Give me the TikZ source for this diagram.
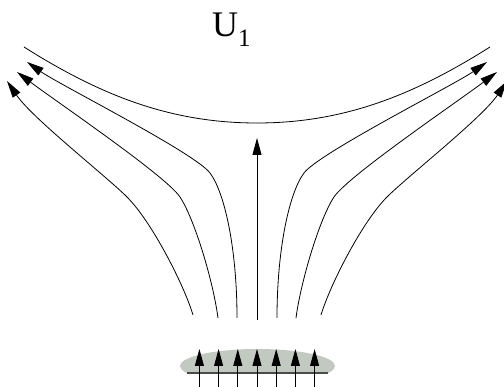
\documentclass[tikz,border=0pt]{standalone}
\usepackage{fontspec}
\setmainfont{Liberation Serif}
\usetikzlibrary{arrows.meta}
\definecolor{Ink}{HTML}{000000}
\definecolor{Plate}{HTML}{C2C9C1}
\definecolor{PlateEdge}{HTML}{4A4A4A}
\tikzset{
  stream/.style={draw=Ink,line width=0.8pt},
  flow/.style={stream,-{Triangle[length=17pt,width=9pt]}}
}

\begin{document}
\begin{tikzpicture}[x=1pt,y=-1pt]
  \useasboundingbox (0,0) rectangle (504,387);
  \node[anchor=base west,inner sep=0pt,font=\fontsize{36}{40}\selectfont] (label) at (212,37) {U\raisebox{-10pt}{\fontsize{25}{28}\selectfont 1}};

  \draw[stream] (24,47) .. controls (100,95) and (170,123) .. (257,123) .. controls (344,123) and (414,95) .. (490,47);
  \foreach \s/\o in {1/0,-1/514}{
    \begin{scope}[xshift=\o pt,xscale=\s]
      \draw[flow] (193,315) .. controls (184,285) and (152,222) .. (127,197) .. controls (106,176) and (32,118) .. (7,81);
      \draw[flow] (218,318) .. controls (213,280) and (194,218) .. (180,197) .. controls (166,176) and (57,102) .. (17,72);
      \draw[flow] (237,318) .. controls (237,250) and (225,193) .. (210,173) .. controls (195,153) and (60,85) .. (27,62);
    \end{scope}}
  \coordinate (src) at (257,320);
  \coordinate (tip) at (257,138);
  \draw[flow] (src) -- (tip);

  \begin{scope}
    \clip (170,330) rectangle (345,373);
    \fill[Plate] (257.5,366) ellipse (77.5 and 17);
  \end{scope}
  \draw[PlateEdge,line width=1.4pt] (187,373) -- (328,373);
  \foreach \k in {-3,...,3}
    \draw[flow] (257+19.2*\k,390) -- (257+19.2*\k,349);
\end{tikzpicture}
\end{document}
